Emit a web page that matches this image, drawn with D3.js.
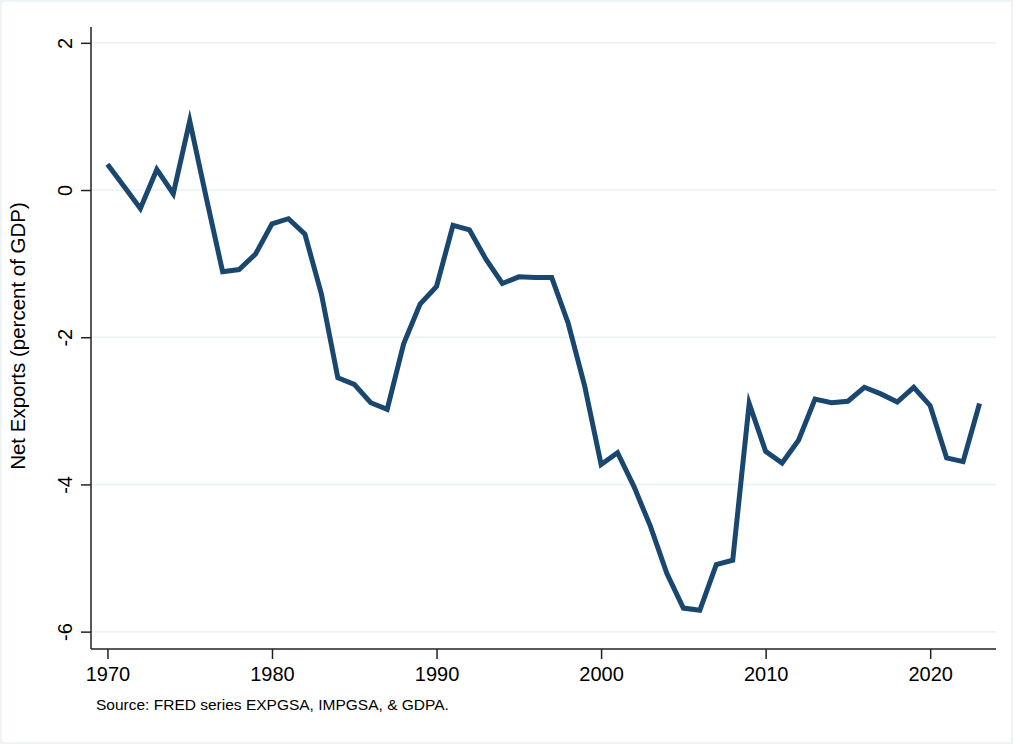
<!DOCTYPE html>
<html>
<head>
<meta charset="utf-8">
<script src="https://cdn.jsdelivr.net/npm/d3@7"></script>
<style>
  body { margin: 0; background: #fff; }
  text { font-family: "Liberation Sans", Arial, Helvetica, sans-serif; fill: #000; }
</style>
</head>
<body>
<div id="canvas"></div>
<script>
const years = d3.range(1970, 2024);
const netExports = [
  0.35, 0.05, -0.25, 0.28, -0.05, 0.94, -0.1, -1.11, -1.08, -0.87,
  -0.46, -0.39, -0.6, -1.41, -2.55, -2.64, -2.89, -2.98, -2.09, -1.55,
  -1.31, -0.48, -0.54, -0.94, -1.27, -1.18, -1.19, -1.19, -1.81, -2.66,
  -3.73, -3.57, -4.03, -4.57, -5.21, -5.68, -5.71, -5.09, -5.03, -2.9,
  -3.55, -3.71, -3.4, -2.84, -2.89, -2.87, -2.68, -2.77, -2.88, -2.68,
  -2.93, -3.64, -3.69, -2.9
];
const xTicks = [1970, 1980, 1990, 2000, 2010, 2020];
const yTicks = [2, 0, -2, -4, -6];

function drawChart() {
  const width = 1024;
  const height = 744;
  const margin = { top: 27, left: 91, bottom: 95, right: 28 };
  const iwidth = width - margin.left - margin.right;
  const iheight = height - margin.top - margin.bottom;

  const svg = d3.select("#canvas").append("svg")
    .attr("width", width)
    .attr("height", height);

  // faint outer frame
  svg.append("rect")
    .attr("x", 1).attr("y", 1)
    .attr("width", 1011).attr("height", 742)
    .attr("fill", "none")
    .attr("stroke", "#eaf2f3")
    .attr("stroke-width", 1.5);

  const g = svg.append("g")
    .attr("transform", `translate(${margin.left},${margin.top})`);

  const x = d3.scaleLinear().domain([1969, 2024]).range([0, iwidth]);
  const y = d3.scaleLinear().domain([-6.236, 2.215]).range([iheight, 0]);

  // grid lines
  g.selectAll("line.grid").data(yTicks).enter().append("line")
    .attr("class", "grid")
    .attr("x1", 0).attr("x2", iwidth)
    .attr("y1", d => y(d)).attr("y2", d => y(d))
    .attr("stroke", "#eaf2f3")
    .attr("stroke-width", 1.5);

  // line
  const line = d3.line()
    .x((d, i) => x(years[i]))
    .y(d => y(d));

  g.append("path")
    .datum(netExports)
    .attr("d", line)
    .attr("fill", "none")
    .attr("stroke", "#1a476f")
    .attr("stroke-width", 5)
    .attr("stroke-linejoin", "miter")
    .attr("stroke-miterlimit", 10);

  // y axis
  const yAxis = g.append("g")
    .call(d3.axisLeft(y).tickValues(yTicks).tickSize(10).tickFormat(d3.format("d")));
  yAxis.select(".domain").attr("d", `M0,0V${iheight}`).attr("stroke", "#222").attr("stroke-width", 1.5);
  yAxis.selectAll(".tick line").attr("stroke", "#222").attr("stroke-width", 1.5);
  yAxis.selectAll(".tick text")
    .attr("font-size", 20)
    .attr("font-family", "'Liberation Sans', Arial, sans-serif")
    .attr("x", null).attr("dy", null)
    .attr("text-anchor", "middle")
    .attr("transform", "translate(-19,0) rotate(-90)")
    .text(d => d3.format("d")(d).replace("−", "-"));

  // x axis
  const xAxis = g.append("g")
    .attr("transform", `translate(0,${iheight})`)
    .call(d3.axisBottom(x).tickValues(xTicks).tickSize(10).tickFormat(d3.format("d")));
  xAxis.select(".domain").attr("d", `M0,0H${iwidth}`).attr("stroke", "#222").attr("stroke-width", 1.5);
  xAxis.selectAll(".tick line").attr("stroke", "#222").attr("stroke-width", 1.5);
  xAxis.selectAll(".tick text")
    .attr("font-size", 20)
    .attr("font-family", "'Liberation Sans', Arial, sans-serif")
    .attr("dy", null)
    .attr("y", 32);

  // y axis title
  svg.append("text")
    .attr("transform", `translate(25,${margin.top + iheight / 2 - 2}) rotate(-90)`)
    .attr("text-anchor", "middle")
    .attr("font-size", 20.5)
    .text("Net Exports (percent of GDP)");

  // note
  svg.append("text")
    .attr("x", 96).attr("y", 710)
    .attr("font-size", 15.5)
    .text("Source: FRED series EXPGSA, IMPGSA, & GDPA.");
}

drawChart();
</script>
</body>
</html>
